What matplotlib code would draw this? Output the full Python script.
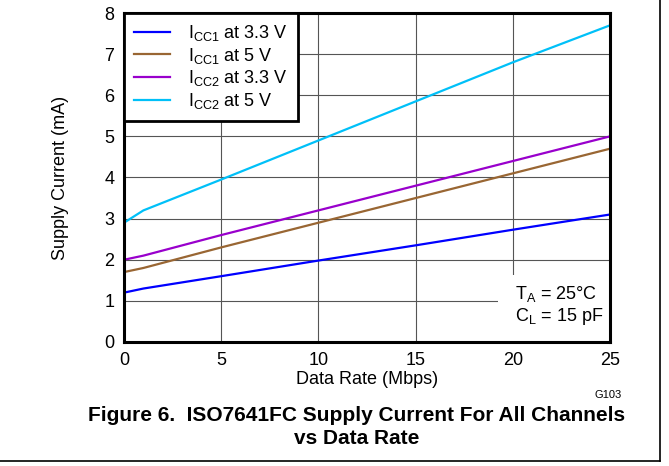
import matplotlib
matplotlib.use("Agg")
import matplotlib.pyplot as plt
from matplotlib.lines import Line2D
from matplotlib.patches import Rectangle

plt.rcParams["font.family"] = ["Liberation Sans", "DejaVu Sans"]
plt.rcParams["mathtext.default"] = "regular"

# data rate (Mbps)
rate = [0, 1, 5, 10, 15, 20, 25]
# supply currents (mA)
icc1_33 = [1.2, 1.3, 1.6, 1.98, 2.35, 2.73, 3.1]
icc1_5 = [1.7, 1.8, 2.3, 2.9, 3.5, 4.1, 4.7]
icc2_33 = [2.0, 2.1, 2.6, 3.2, 3.8, 4.4, 5.0]
icc2_5 = [2.9, 3.2, 3.95, 4.9, 5.85, 6.8, 7.7]

labels = ["I$_{CC1}$ at 3.3 V", "I$_{CC1}$ at 5 V", "I$_{CC2}$ at 3.3 V", "I$_{CC2}$ at 5 V"]
colors = ["#0000ff", "#996633", "#9900cc", "#00c0f8"]

fig = plt.figure(figsize=(6.69, 4.66), dpi=100)
ax = fig.add_axes([0.1853, 0.2661, 0.9118 - 0.1853, 0.9721 - 0.2661])

for ys, lab, c in zip([icc1_33, icc1_5, icc2_33, icc2_5], labels, colors):
    ax.plot(rate, ys, color=c, lw=1.6, label=lab, zorder=3)

ax.set_xlim(0, 25)
ax.set_ylim(0, 8)
ax.set_xticks([0, 5, 10, 15, 20, 25])
ax.set_yticks(range(0, 9))
ax.grid(True, color="#555555", lw=0.8, zorder=1)
ax.set_axisbelow(True)
ax.tick_params(length=0, labelsize=13, pad=7)
for s in ax.spines.values():
    s.set_linewidth(2.2)
    s.set_zorder(5)

ax.set_xlabel("Data Rate (Mbps)", fontsize=13, labelpad=2)
ax.set_ylabel("Supply Current (mA)", fontsize=13, labelpad=25)

# white box behind the conditions text
ax.add_patch(Rectangle((19.24, 0), 5.76, 1.63, facecolor="white", edgecolor="none", zorder=2))
ax.text(20.1, 0.36, "T$_A$ = 25°C\nC$_L$ = 15 pF", fontsize=13, va="bottom", ha="left",
        linespacing=1.15, zorder=4)

leg = ax.legend(loc="upper left", fontsize=13, borderaxespad=0, fancybox=False,
                framealpha=1, edgecolor="black", handlelength=2.0, handletextpad=1.0,
                labelspacing=0.15, borderpad=0.55)
leg.get_frame().set_linewidth(2)
leg.set_zorder(6)

fig.text(608 / 669, 1 - 395 / 466, "G103", fontsize=8, ha="center", va="center")
fig.text(357 / 669, 1 - 427 / 466, "Figure 6.  ISO7641FC Supply Current For All Channels\nvs Data Rate",
         fontsize=15, fontweight="bold", ha="center", va="center", linespacing=1.3)

# page border (right and bottom)
fig.add_artist(Line2D([660 / 669, 660 / 669], [1 - 461 / 466, 1], color="black", lw=1.2))
fig.add_artist(Line2D([0, 660 / 669], [1 - 461 / 466, 1 - 461 / 466], color="black", lw=1.2))

fig.savefig("out.png", dpi=100)
